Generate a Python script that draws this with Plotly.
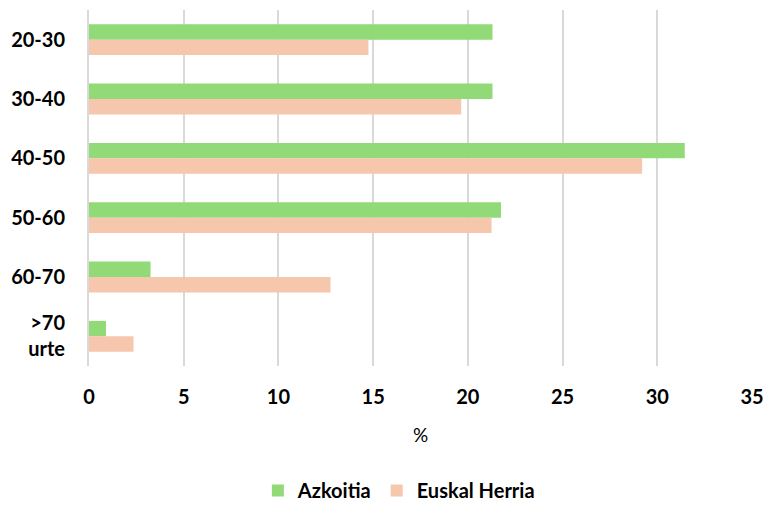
import plotly.graph_objects as go

# age groups (top to bottom)
age_groups = ["20-30", "30-40", "40-50", "50-60", "60-70", ">70<br>urte"]

# share of population, %
azkoitia = [21.3, 21.3, 31.45, 21.75, 3.25, 0.9]
euskal_herria = [14.75, 19.65, 29.2, 21.25, 12.75, 2.35]

x_ticks = [0, 5, 10, 15, 20, 25, 30, 35]

GREEN = "rgb(146,217,119)"
PEACH = "rgb(246,198,173)"
FONT = "Lato"

fig = go.Figure()
fig.add_trace(go.Bar(
    y=age_groups, x=azkoitia, name="Azkoitia", orientation="h",
    marker=dict(color=GREEN, line=dict(width=0))
))
fig.add_trace(go.Bar(
    y=age_groups, x=euskal_herria, name="Euskal Herria", orientation="h",
    marker=dict(color=PEACH, line=dict(width=0))
))

# page body has an 8px margin: keep the figure inside the window (no scrollbars)
fig.update_layout(
    width=756, height=502,
    margin=dict(l=81, r=12, t=2, b=144),
    barmode="group",
    bargap=0.48,
    bargroupgap=0,
    plot_bgcolor="white",
    paper_bgcolor="white",
    font=dict(family=FONT, color="black", size=19),
    showlegend=True,
    legend=dict(
        orientation="h", xref="container", yref="container",
        x=0.517, xanchor="center", y=0.0, yanchor="bottom",
        font=dict(size=20, weight="bold"), traceorder="normal",
        itemwidth=30,
    ),
    xaxis=dict(
        range=[0, 35], tickvals=x_ticks, showgrid=True,
        gridcolor="#d9d9d9", gridwidth=2, zeroline=False,
        showline=False, ticks="", automargin=False,
        tickfont=dict(size=20, weight="bold"), ticklabelstandoff=17,
        title=dict(text="%", font=dict(size=19), standoff=21),
    ),
    yaxis=dict(
        autorange="reversed", showgrid=False, zeroline=False,
        showline=True, linecolor="#d9d9d9", linewidth=2, ticks="",
        automargin=False,
        tickfont=dict(size=20, weight="bold"), ticklabelstandoff=18,
    ),
)

fig.write_html("out.html")
